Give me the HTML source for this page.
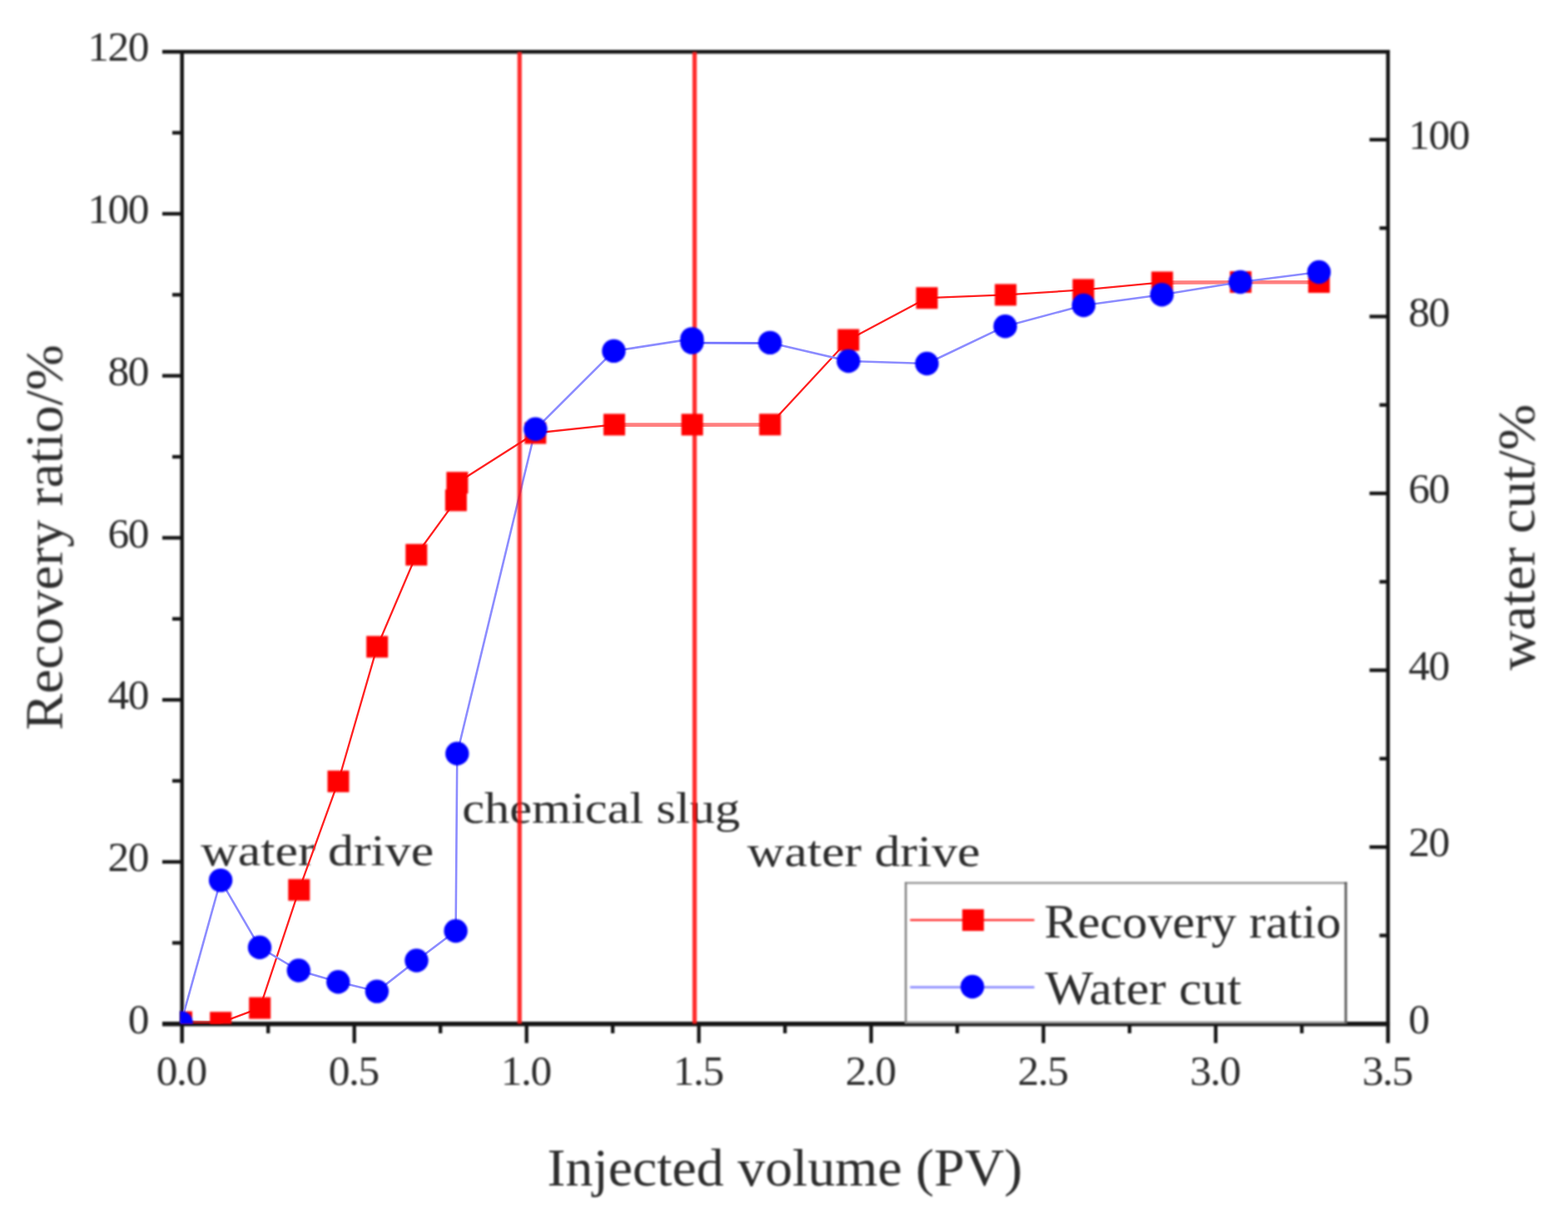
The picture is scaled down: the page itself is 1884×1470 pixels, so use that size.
<!DOCTYPE html>
<html lang="en"><head><meta charset="utf-8"><title>Recovery ratio and water cut vs injected volume</title>
<style>
html,body{margin:0;padding:0;background:#fff;}
body{width:1884px;height:1470px;overflow:hidden;}
svg{display:block;}
text{font-family:"Liberation Serif","DejaVu Serif",serif;fill:#2c2c2c;}
.tk{font-size:51.5px;letter-spacing:-1.5px;}
.an{font-size:53.5px;}
.lg{font-size:56px;}
.ti{font-size:62.5px;}
</style></head><body>
<svg width="1884" height="1470" viewBox="0 0 1884 1470">
<rect x="0" y="0" width="1884" height="1470" fill="#ffffff"/>
<defs><filter id="soft" color-interpolation-filters="sRGB" x="0" y="0" width="1884" height="1470" filterUnits="userSpaceOnUse"><feGaussianBlur stdDeviation="1"/></filter><clipPath id="plot"><rect x="216.3" y="62.2" width="1451.4" height="1168.6"/></clipPath></defs>
<g filter="url(#soft)">
<rect x="0" y="0" width="1884" height="1470" fill="#ffffff"/>
<text class="an" x="241.2" y="1040.3" textLength="280" lengthAdjust="spacingAndGlyphs">water drive</text>
<text class="an" x="555.2" y="989.2" textLength="334" lengthAdjust="spacingAndGlyphs">chemical slug</text>
<text class="an" x="897.8" y="1040.6" textLength="280" lengthAdjust="spacingAndGlyphs">water drive</text>
<g stroke="#141414" stroke-width="4.5" fill="none" stroke-linecap="butt">
<line x1="195" y1="62.2" x2="1669.95" y2="62.2"/>
<line x1="195" y1="1230.7" x2="1669.95" y2="1230.7" stroke-width="5.4"/>
<line x1="218.7" y1="59.95" x2="218.7" y2="1253.7"/>
<line x1="1667.7" y1="59.95" x2="1667.7" y2="1253.7"/>
</g>
<g stroke="#141414" stroke-width="4.3" fill="none">
<line x1="207" y1="1133.33" x2="218.7" y2="1133.33"/>
<line x1="195" y1="1035.95" x2="218.7" y2="1035.95"/>
<line x1="207" y1="938.58" x2="218.7" y2="938.58"/>
<line x1="195" y1="841.20" x2="218.7" y2="841.20"/>
<line x1="207" y1="743.83" x2="218.7" y2="743.83"/>
<line x1="195" y1="646.45" x2="218.7" y2="646.45"/>
<line x1="207" y1="549.08" x2="218.7" y2="549.08"/>
<line x1="195" y1="451.70" x2="218.7" y2="451.70"/>
<line x1="207" y1="354.33" x2="218.7" y2="354.33"/>
<line x1="195" y1="256.95" x2="218.7" y2="256.95"/>
<line x1="207" y1="159.58" x2="218.7" y2="159.58"/>
<line x1="1657.5" y1="1124.42" x2="1667.7" y2="1124.42"/>
<line x1="1645.5" y1="1018.14" x2="1667.7" y2="1018.14"/>
<line x1="1657.5" y1="911.86" x2="1667.7" y2="911.86"/>
<line x1="1645.5" y1="805.58" x2="1667.7" y2="805.58"/>
<line x1="1657.5" y1="699.30" x2="1667.7" y2="699.30"/>
<line x1="1645.5" y1="593.02" x2="1667.7" y2="593.02"/>
<line x1="1657.5" y1="486.74" x2="1667.7" y2="486.74"/>
<line x1="1645.5" y1="380.46" x2="1667.7" y2="380.46"/>
<line x1="1657.5" y1="274.18" x2="1667.7" y2="274.18"/>
<line x1="1645.5" y1="167.90" x2="1667.7" y2="167.90"/>
<line x1="322.20" y1="1230.7" x2="322.20" y2="1242"/>
<line x1="425.70" y1="1230.7" x2="425.70" y2="1253.7"/>
<line x1="529.20" y1="1230.7" x2="529.20" y2="1242"/>
<line x1="632.70" y1="1230.7" x2="632.70" y2="1253.7"/>
<line x1="736.20" y1="1230.7" x2="736.20" y2="1242"/>
<line x1="839.70" y1="1230.7" x2="839.70" y2="1253.7"/>
<line x1="943.20" y1="1230.7" x2="943.20" y2="1242"/>
<line x1="1046.70" y1="1230.7" x2="1046.70" y2="1253.7"/>
<line x1="1150.20" y1="1230.7" x2="1150.20" y2="1242"/>
<line x1="1253.70" y1="1230.7" x2="1253.70" y2="1253.7"/>
<line x1="1357.20" y1="1230.7" x2="1357.20" y2="1242"/>
<line x1="1460.70" y1="1230.7" x2="1460.70" y2="1253.7"/>
<line x1="1564.20" y1="1230.7" x2="1564.20" y2="1242"/>
</g>
</g>
<g clip-path="url(#plot)" fill="none" stroke-linejoin="round">
<line x1="218" y1="1228.8" x2="265.2" y2="1229.4" stroke="#ff0000" stroke-width="4.6" stroke-opacity="0.5"/>
<polyline stroke="#ff2020" stroke-width="2.3" stroke-opacity="1" points="265.2,1229.2 312.2,1211.6 359.3,1069.6 406.5,939.2 453.2,777.4 500.3,666.8 547.9,601.4 549.4,580.2 643.3,520.5 738.1,510.4"/>
<line x1="738.1" y1="510.6" x2="831.7" y2="510.6" stroke="#ff0000" stroke-width="4.6" stroke-opacity="0.5"/>
<line x1="831.7" y1="510.6" x2="925.2" y2="510.5" stroke="#ff0000" stroke-width="4.6" stroke-opacity="0.5"/>
<polyline stroke="#ff2020" stroke-width="2.3" stroke-opacity="1" points="925.2,510.3 1019.4,408.6 1113.7,358.2 1208.3,354.4 1301.7,348.4 1396.4,339.4"/>
<line x1="1396.4" y1="339.6" x2="1490.7" y2="339.2" stroke="#ff0000" stroke-width="4.6" stroke-opacity="0.5"/>
<line x1="1490.7" y1="339.2" x2="1584.8" y2="339.2" stroke="#ff0000" stroke-width="4.6" stroke-opacity="0.5"/>
<polyline stroke="#8c8cff" stroke-width="2.6" stroke-opacity="1" points="217.6,1229.4 265.1,1058.1 312,1138.7 358.8,1166.5 406.3,1180.3 452.9,1191.6 500.5,1154.5 547.6,1119 549.3,905.7 643.4,515.8 737.5,421.9 831.5,407.4 831.5,411.6"/>
<line x1="831.5" y1="412.2" x2="925.2" y2="412.5" stroke="#2020ff" stroke-width="2.8" stroke-opacity="0.62"/>
<polyline stroke="#8c8cff" stroke-width="2.6" stroke-opacity="1" points="925.2,411.9 1019.4,434 1113.7,437 1207.8,392.2 1302,367 1396,354.3 1490.3,339 1584.8,327"/>
</g>
<g filter="url(#soft)">
<g clip-path="url(#plot)">
<line x1="624.3" y1="62.2" x2="624.3" y2="1230.7" stroke="#ff1010" stroke-width="5.2" stroke-opacity="0.88"/>
<line x1="834.6" y1="62.2" x2="834.6" y2="1230.7" stroke="#ff1010" stroke-width="5.2" stroke-opacity="0.88"/>
<g fill="#ff0000">
<rect x="205" y="1215.6" width="26" height="26"/>
<rect x="252.2" y="1216.2" width="26" height="26"/>
<rect x="299.2" y="1198.6" width="26" height="26"/>
<rect x="346.3" y="1056.6" width="26" height="26"/>
<rect x="393.5" y="926.2" width="26" height="26"/>
<rect x="440.2" y="764.4" width="26" height="26"/>
<rect x="487.3" y="653.8" width="26" height="26"/>
<rect x="534.9" y="588.4" width="26" height="26"/>
<rect x="536.4" y="567.2" width="26" height="26"/>
<rect x="630.3" y="507.5" width="26" height="26"/>
<rect x="725.1" y="497.4" width="26" height="26"/>
<rect x="818.7" y="497.4" width="26" height="26"/>
<rect x="912.2" y="497.3" width="26" height="26"/>
<rect x="1006.4" y="395.6" width="26" height="26"/>
<rect x="1100.7" y="345.2" width="26" height="26"/>
<rect x="1195.3" y="341.4" width="26" height="26"/>
<rect x="1288.7" y="335.4" width="26" height="26"/>
<rect x="1383.4" y="326.4" width="26" height="26"/>
<rect x="1477.7" y="326" width="26" height="26"/>
<rect x="1571.8" y="326" width="26" height="26"/>
</g>
<g fill="#0000ff">
<circle cx="217.6" cy="1229.4" r="14.2"/>
<circle cx="265.1" cy="1058.1" r="14.2"/>
<circle cx="312" cy="1138.7" r="14.2"/>
<circle cx="358.8" cy="1166.5" r="14.2"/>
<circle cx="406.3" cy="1180.3" r="14.2"/>
<circle cx="452.9" cy="1191.6" r="14.2"/>
<circle cx="500.5" cy="1154.5" r="14.2"/>
<circle cx="547.6" cy="1119" r="14.2"/>
<circle cx="549.3" cy="905.7" r="14.2"/>
<circle cx="643.4" cy="515.8" r="14.2"/>
<circle cx="737.5" cy="421.9" r="14.2"/>
<circle cx="831.5" cy="407.4" r="14.2"/>
<circle cx="831.5" cy="411.6" r="14.2"/>
<circle cx="925.2" cy="411.9" r="14.2"/>
<circle cx="1019.4" cy="434" r="14.2"/>
<circle cx="1113.7" cy="437" r="14.2"/>
<circle cx="1207.8" cy="392.2" r="14.2"/>
<circle cx="1302" cy="367" r="14.2"/>
<circle cx="1396" cy="354.3" r="14.2"/>
<circle cx="1490.3" cy="339" r="14.2"/>
<circle cx="1584.8" cy="327" r="14.2"/>
</g>
</g>
<rect x="1088.3" y="1061.3" width="528.7" height="167.9" fill="#ffffff"/>
<line x1="1087" y1="1061.3" x2="1618.4" y2="1061.3" stroke="#9a9a9a" stroke-width="2.6"/>
<line x1="1088.3" y1="1060" x2="1088.3" y2="1230.4" stroke="#868686" stroke-width="2.6"/>
<line x1="1087" y1="1229.1" x2="1618.4" y2="1229.1" stroke="#8a8a8a" stroke-width="2.6"/>
<line x1="1617.0" y1="1060" x2="1617.0" y2="1230.4" stroke="#5e5e5e" stroke-width="3"/>
<line x1="1093.5" y1="1105.8" x2="1242.8" y2="1105.8" stroke="#ff2020" stroke-width="2.3" stroke-opacity="1"/>
<rect x="1156.2" y="1092.9" width="26" height="26" fill="#ff0000"/>
<line x1="1093.5" y1="1186.6" x2="1242.8" y2="1186.6" stroke="#8c8cff" stroke-width="2.6" stroke-opacity="1"/>
<circle cx="1168.3" cy="1186" r="14.2" fill="#0000ff"/>
<text class="lg" x="1254.8" y="1127.3" textLength="356.5" lengthAdjust="spacingAndGlyphs">Recovery ratio</text>
<text class="lg" x="1255.6" y="1207" textLength="236" lengthAdjust="spacingAndGlyphs">Water cut</text>
<text class="tk" text-anchor="end" x="178" y="1241.90">0</text>
<text class="tk" text-anchor="end" x="178" y="1047.15">20</text>
<text class="tk" text-anchor="end" x="178" y="852.40">40</text>
<text class="tk" text-anchor="end" x="178" y="657.65">60</text>
<text class="tk" text-anchor="end" x="178" y="462.90">80</text>
<text class="tk" text-anchor="end" x="178" y="268.15">100</text>
<text class="tk" text-anchor="end" x="178" y="73.40">120</text>
<text class="tk" x="1692.2" y="1241.90">0</text>
<text class="tk" x="1692.2" y="1029.34">20</text>
<text class="tk" x="1692.2" y="816.78">40</text>
<text class="tk" x="1692.2" y="604.22">60</text>
<text class="tk" x="1692.2" y="391.66">80</text>
<text class="tk" x="1692.2" y="179.10">100</text>
<text class="tk" text-anchor="middle" x="217.70" y="1304.3">0.0</text>
<text class="tk" text-anchor="middle" x="424.70" y="1304.3">0.5</text>
<text class="tk" text-anchor="middle" x="631.70" y="1304.3">1.0</text>
<text class="tk" text-anchor="middle" x="838.70" y="1304.3">1.5</text>
<text class="tk" text-anchor="middle" x="1045.70" y="1304.3">2.0</text>
<text class="tk" text-anchor="middle" x="1252.70" y="1304.3">2.5</text>
<text class="tk" text-anchor="middle" x="1459.70" y="1304.3">3.0</text>
<text class="tk" text-anchor="middle" x="1666.70" y="1304.3">3.5</text>
<text class="ti" x="657.5" y="1425" textLength="571" lengthAdjust="spacingAndGlyphs">Injected volume (PV)</text>
<text class="ti" transform="translate(74.6 877.7) rotate(-90)" x="0" y="0" textLength="463.5" lengthAdjust="spacingAndGlyphs">Recovery ratio/%</text>
<text class="ti" transform="translate(1843.6 805.8) rotate(-90)" x="0" y="0" textLength="320" lengthAdjust="spacingAndGlyphs">water cut/%</text>
</g>
</svg>
</body></html>
